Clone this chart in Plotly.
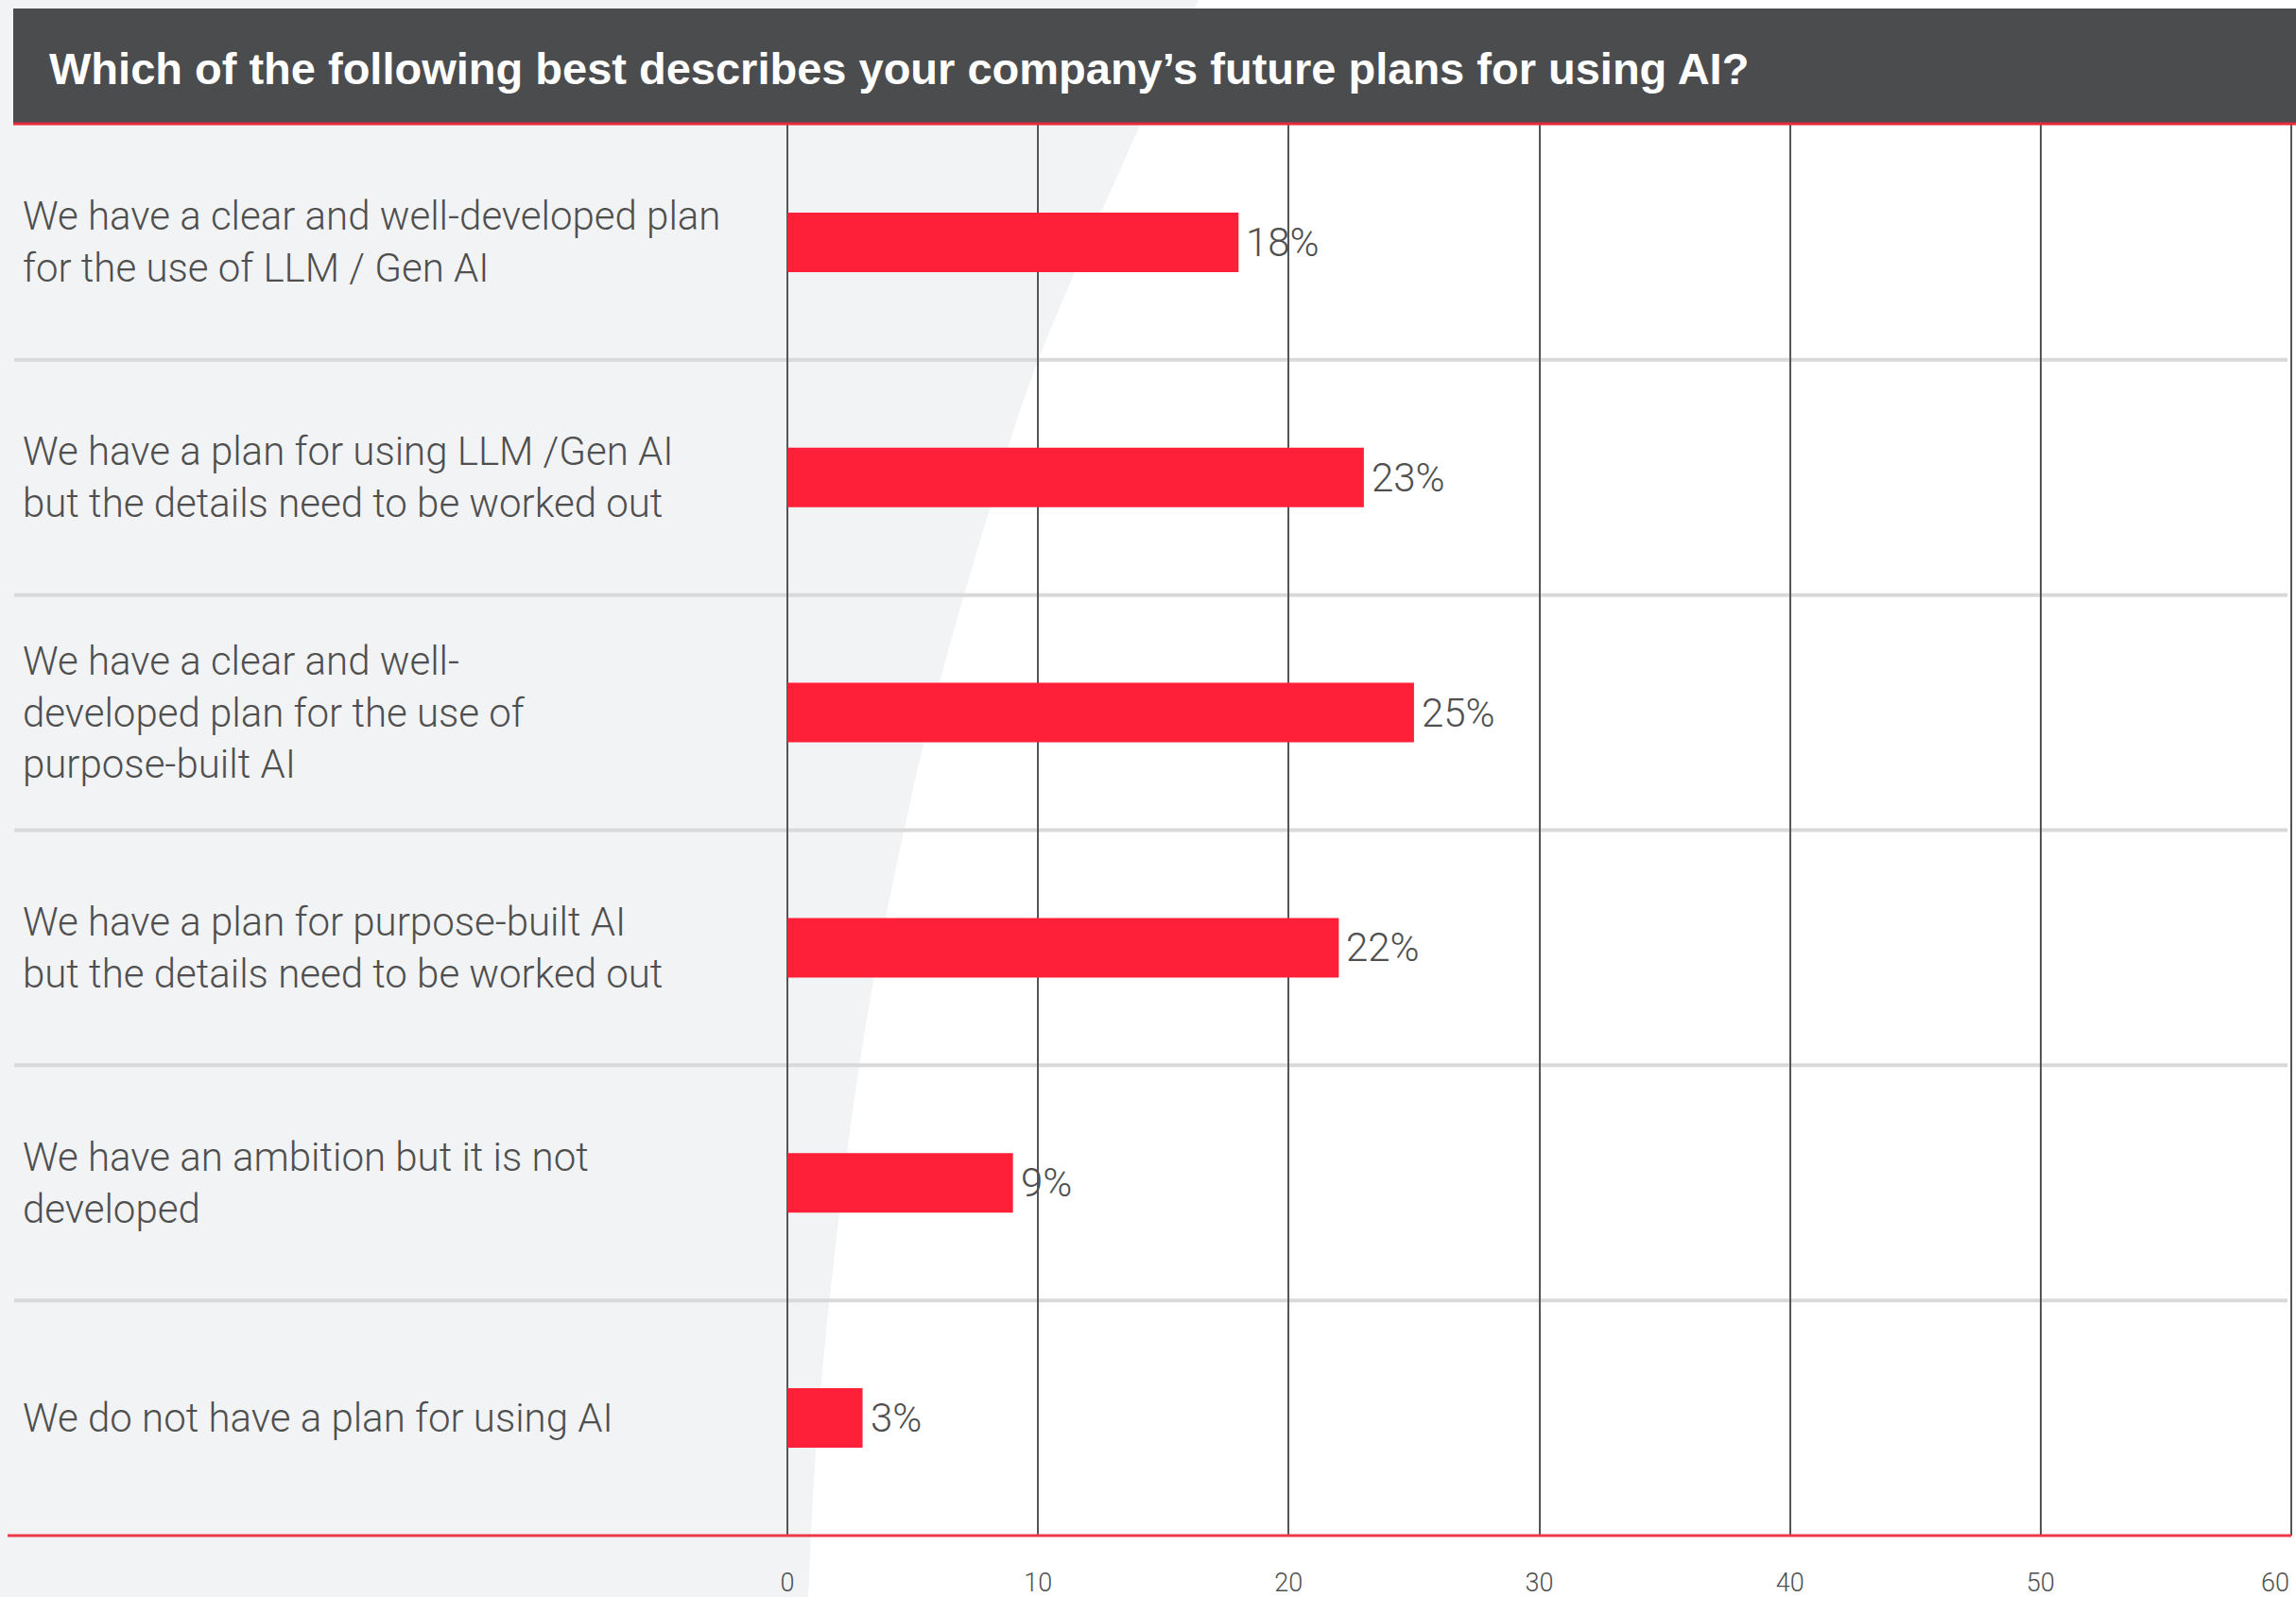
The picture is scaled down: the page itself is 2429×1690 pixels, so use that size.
import plotly.graph_objects as go

# ---- data -------------------------------------------------------------
categories = [
    "We have a clear and well-developed plan<br>for the use of LLM / Gen AI",
    "We have a plan for using LLM /Gen AI<br>but the details need to be worked out",
    "We have a clear and well-<br>developed plan for the use of<br>purpose-built AI",
    "We have a plan for purpose-built AI<br>but the details need to be worked out",
    "We have an ambition but it is not<br>developed",
    "We do not have a plan for using AI",
]
shares = [18, 23, 25, 22, 9, 3]
share_labels = ["18%", "23%", "25%", "22%", "9%", "3%"]
x_ticks = [0, 10, 20, 30, 40, 50, 60]

title_text = "Which of the following best describes your company\u2019s future plans for using AI?"

# ---- page geometry (pixels) -------------------------------------------
W, H = 2429, 1690
PLOT_L, PLOT_R, PLOT_T, PLOT_B = 833, 2427, 132, 1625
X_MAX = 60 * (PLOT_R - PLOT_L) / (2424 - PLOT_L)   # 60 sits at x=2424

RED = "#fe2038"
TEXT = "#4f4f4f"
PANEL = "#f2f3f5"
LABEL_FONT = "Roboto"
TICK_FONT = dict(family=LABEL_FONT, size=27, color=TEXT, weight=300)
TICK_STANDOFF = 31


def px_x(x):
    """page pixel -> paper x"""
    return (x - PLOT_L) / (PLOT_R - PLOT_L)


def px_y(y):
    """page pixel -> paper y"""
    return (PLOT_B - y) / (PLOT_B - PLOT_T)


# curved edge of the light-grey backdrop panel
swoosh = [(1268, 0), (1205, 135), (1100, 377), (1047, 539), (997, 711),
          (960, 862), (917, 1078), (887, 1293), (865, 1509), (855, 1690)]


def smooth_path(pts):
    p = [(px_x(x), px_y(y)) for x, y in pts]
    d = f"M {px_x(0)},{px_y(0)} L {p[0][0]},{p[0][1]}"
    # Catmull-Rom through the edge points
    for i in range(len(p) - 1):
        p0 = p[i - 1] if i > 0 else p[i]
        p1, p2 = p[i], p[i + 1]
        p3 = p[i + 2] if i + 2 < len(p) else p2
        c1 = (p1[0] + (p2[0] - p0[0]) / 6, p1[1] + (p2[1] - p0[1]) / 6)
        c2 = (p2[0] - (p3[0] - p1[0]) / 6, p2[1] - (p3[1] - p1[1]) / 6)
        d += f" C {c1[0]},{c1[1]} {c2[0]},{c2[1]} {p2[0]},{p2[1]}"
    d += f" L {px_x(0)},{px_y(H)} Z"
    return d


fig = go.Figure()

fig.add_trace(go.Bar(
    y=categories,
    x=shares,
    orientation="h",
    width=0.253,
    marker=dict(color=RED, line=dict(width=0)),
    hoverinfo="skip",
))

shapes = [
    # backdrop panel
    dict(type="path", xref="paper", yref="paper", path=smooth_path(swoosh),
         fillcolor=PANEL, line=dict(width=0), layer="below"),
    # title band
    dict(type="rect", xref="paper", yref="paper",
         x0=px_x(14), x1=px_x(W + 5), y0=px_y(130), y1=px_y(9),
         fillcolor="#4b4c4e", line=dict(width=0), layer="below"),
    dict(type="line", xref="paper", yref="paper",
         x0=px_x(14), x1=px_x(W + 5), y0=px_y(131), y1=px_y(131),
         line=dict(color="#e8293a", width=3), layer="above"),
    # baseline under the bars
    dict(type="line", xref="paper", yref="paper",
         x0=px_x(8), x1=px_x(2424), y0=0, y1=0,
         line=dict(color="#ec3a4a", width=3), layer="above"),
]

# row separators between categories
for i in range(len(categories) - 1):
    shapes.append(dict(
        type="line", xref="paper", yref="y",
        x0=px_x(15), x1=px_x(2420), y0=i + 0.5, y1=i + 0.5,
        line=dict(color="#d9d9d9", width=4), layer="below"))

annotations = [
    dict(text=title_text, xref="paper", yref="paper",
         x=px_x(50), y=px_y(72), xanchor="left", yanchor="middle",
         showarrow=False,
         font=dict(family="Liberation Sans, Arial, sans-serif", size=47,
                   color="white", weight="bold")),
]

for cat in categories:
    annotations.append(dict(
        text=cat, xref="paper", yref="y", x=px_x(22), y=cat,
        xanchor="left", yanchor="middle", align="left", showarrow=False,
        font=dict(family=LABEL_FONT, size=42, color=TEXT, weight=300)))

for cat, v, lab in zip(categories, shares, share_labels):
    annotations.append(dict(
        text=lab, xref="x", yref="y", x=v, y=cat,
        xanchor="left", yanchor="middle", xshift=6, showarrow=False,
        font=dict(family=LABEL_FONT, size=42, color=TEXT, weight=300)))

# the last tick label is right-aligned on its gridline so it stays on the page
tick_text = [str(t) for t in x_ticks[:-1]] + [""]
annotations.append(dict(
    text=str(x_ticks[-1]), xref="x", yref="paper", x=x_ticks[-1], y=0,
    xanchor="right", yanchor="top", yshift=-(TICK_STANDOFF + 1),
    showarrow=False, font=TICK_FONT))

fig.update_layout(
    width=W, height=H,
    margin=dict(l=PLOT_L, r=W - PLOT_R, t=PLOT_T, b=H - PLOT_B),
    paper_bgcolor="white",
    plot_bgcolor="rgba(0,0,0,0)",
    showlegend=False,
    shapes=shapes,
    annotations=annotations,
    xaxis=dict(
        range=[0, X_MAX], tickvals=x_ticks, ticktext=tick_text,
        showgrid=True, gridcolor="#555555", gridwidth=2,
        zeroline=True, zerolinecolor="#555555", zerolinewidth=2,
        showline=False, ticks="", ticklabelstandoff=TICK_STANDOFF,
        ticklabeloverflow="allow", automargin=False,
        tickfont=TICK_FONT,
        fixedrange=True,
    ),
    yaxis=dict(
        categoryorder="array", categoryarray=categories,
        range=[len(categories) - 0.5, -0.5],
        showticklabels=False, showgrid=False, zeroline=False,
        showline=False, ticks="", fixedrange=True, automargin=False,
    ),
)

fig.write_html("out.html")
